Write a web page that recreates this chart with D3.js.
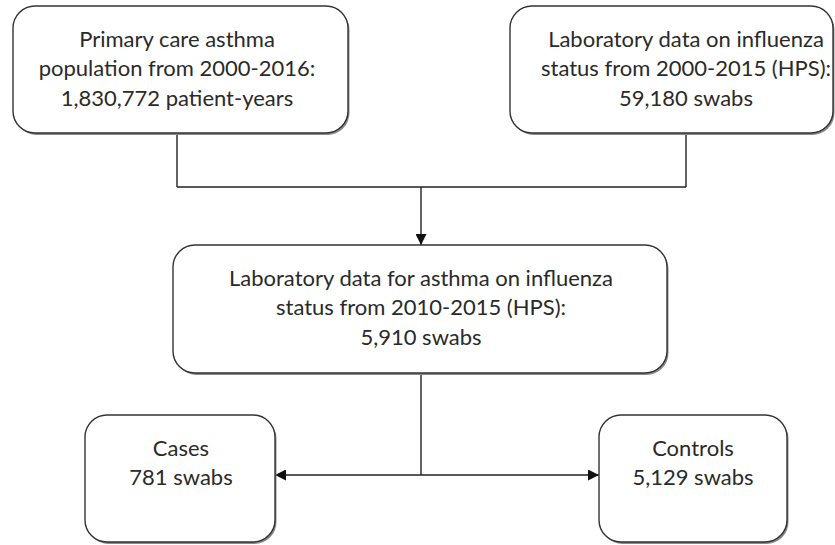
<!DOCTYPE html>
<html>
<head>
<meta charset="utf-8">
<script src="https://cdn.jsdelivr.net/npm/d3@7"></script>
<style>
  html, body { margin: 0; padding: 0; background: #fff; }
  svg { display: block; }
</style>
</head>
<body>
<div id="chart"></div>
<script>
// flowchart content
const nodeIds = ["primary", "lab", "asthmaLab", "cases", "controls"];
const nodeLines = [
  ["Primary care asthma", "population from 2000-2016:", "1,830,772 patient-years"],
  ["Laboratory data on influenza", "status from 2000-2015 (HPS):", "59,180 swabs"],
  ["Laboratory data for asthma on influenza", "status from 2010-2015 (HPS):", "5,910 swabs"],
  ["Cases", "781 swabs"],
  ["Controls", "5,129 swabs"]
];
const edgeSources = [["primary", "lab"], ["asthmaLab"]];
const edgeTargets = [["asthmaLab"], ["cases", "controls"]];

// layout (pixels); ax = x of text centre and connector
const width = 835, height = 545;
const boxes = {
  primary:   { x: 13,  y: 6,   w: 335, h: 127, r: 22, ax: 177 },
  lab:       { x: 510, y: 6,   w: 323, h: 127, r: 22, ax: 686 },
  asthmaLab: { x: 173, y: 245, w: 494, h: 128, r: 22, ax: 421 },
  cases:     { x: 85,  y: 415, w: 190, h: 127, r: 22, ax: 181 },
  controls:  { x: 599, y: 415, w: 188, h: 127, r: 22, ax: 693 }
};
const joinY = [187, 475];
const fontSize = 22, lineGap = 29.5, firstLine = 39;

const svg = d3.select("#chart").append("svg")
  .attr("width", width)
  .attr("height", height);

const defs = svg.append("defs");
defs.append("marker")
  .attr("id", "arrow")
  .attr("viewBox", "0 0 10 10")
  .attr("refX", 10).attr("refY", 5)
  .attr("markerWidth", 11).attr("markerHeight", 11)
  .attr("markerUnits", "userSpaceOnUse")
  .attr("orient", "auto")
  .append("path")
  .attr("d", "M0,0L10,5L0,10Z")
  .attr("fill", "#111");

const nodes = nodeIds.map((id, i) => Object.assign({ id: id, lines: nodeLines[i] }, boxes[id]));
const byId = {};
nodes.forEach(n => byId[n.id] = n);

const line = d3.line();

// connectors
const links = svg.append("g")
  .attr("fill", "none")
  .attr("stroke", "#222")
  .attr("stroke-width", 1.4);

edgeSources.forEach(function (srcs, k) {
  const tgts = edgeTargets[k].map(t => byId[t]);
  const s = srcs.map(t => byId[t]);
  const y = joinY[k];
  if (s.length > 1) {
    // several sources merging into one target
    s.forEach(n => links.append("path").attr("d", line([[n.ax, n.y + n.h], [n.ax, y]])));
    links.append("path").attr("d", line([[s[0].ax, y], [s[s.length - 1].ax, y]]));
    const t = tgts[0];
    links.append("path")
      .attr("d", line([[t.ax, y], [t.ax, t.y]]))
      .attr("marker-end", "url(#arrow)");
  } else {
    // one source splitting into several targets
    const n = s[0];
    links.append("path").attr("d", line([[n.ax, n.y + n.h], [n.ax, y]]));
    tgts.forEach(function (t) {
      const edgeX = t.x > n.ax ? t.x : t.x + t.w;
      links.append("path")
        .attr("d", line([[n.ax, y], [edgeX, y]]))
        .attr("marker-end", "url(#arrow)");
    });
  }
});

// boxes
const box = svg.selectAll(".box")
  .data(nodes)
  .enter()
  .append("g")
  .attr("class", "box");

box.append("rect")
  .attr("x", d => d.x + 1.5)
  .attr("y", d => d.y + 2)
  .attr("width", d => d.w)
  .attr("height", d => d.h)
  .attr("rx", d => d.r)
  .attr("fill", "#8a8a8a");

box.append("rect")
  .attr("x", d => d.x)
  .attr("y", d => d.y)
  .attr("width", d => d.w)
  .attr("height", d => d.h)
  .attr("rx", d => d.r)
  .attr("fill", "#fff")
  .attr("stroke", "#333")
  .attr("stroke-width", 1.4);

box.each(function (d) {
  const g = d3.select(this);
  d.lines.forEach(function (t, i) {
    g.append("text")
      .attr("x", d.ax)
      .attr("y", d.y + firstLine - 6 + i * lineGap)
      .attr("dy", "0.35em")
      .attr("text-anchor", "middle")
      .attr("font-family", "Lato, 'Open Sans', sans-serif")
      .attr("font-size", fontSize)
      .attr("fill", "#2a2a2a")
      .text(t);
  });
});
</script>
</body>
</html>
